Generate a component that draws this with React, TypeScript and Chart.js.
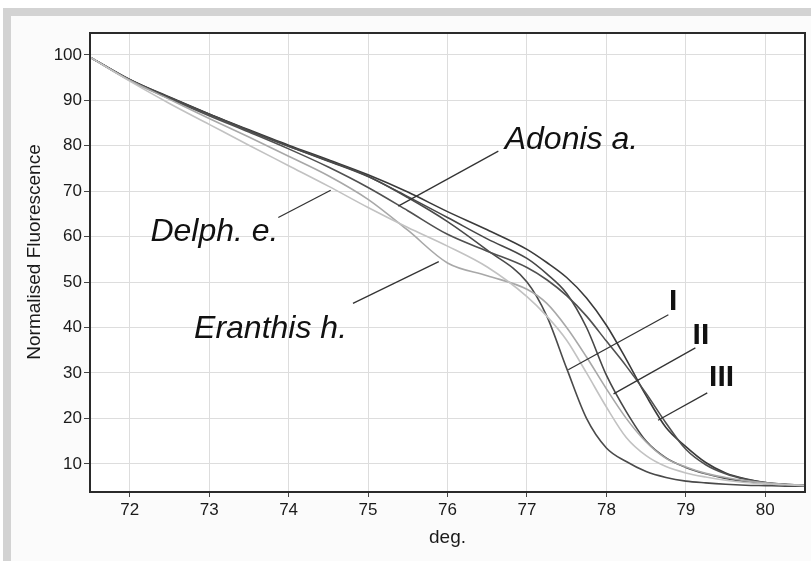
import React, { useEffect, useRef } from "react";
import { Chart, registerables } from "chart.js";
Chart.register(...registerables);

// ---- data ----
const temps = [71.5, 72, 72.5, 73, 73.5, 74, 74.5, 75, 75.5, 76, 76.5, 77, 77.25, 77.5, 77.75, 78, 78.25, 78.5, 78.75, 79, 79.25, 79.5, 79.75, 80, 80.25, 80.5];

const delphE = [99.5, 94.2, 89.3, 84.7, 80.1, 75.6, 71.1, 66.4, 62.0, 57.9, 53.3, 46.8, 42.5, 37.2, 30.0, 22.5, 15.8, 11.8, 9.4, 8.0, 7.1, 6.4, 5.9, 5.6, 5.4, 5.2];
const eranthisH = [99.5, 94.4, 90.2, 86.0, 81.9, 77.7, 73.4, 68.2, 61.4, 54.2, 51.4, 48.4, 45.3, 40.0, 33.5, 26.5, 20.0, 14.8, 11.2, 9.3, 7.9, 7.0, 6.3, 5.8, 5.5, 5.3];
const adonisA = [99.5, 94.4, 90.4, 86.6, 83.0, 79.3, 75.3, 70.8, 65.7, 60.5, 56.8, 53.2, 50.5, 47.0, 42.5, 37.0, 31.5, 25.5, 19.0, 13.2, 9.8, 7.8, 6.6, 5.9, 5.5, 5.3];
const sampleI = [99.5, 94.5, 90.6, 86.9, 83.3, 79.9, 76.7, 73.3, 68.6, 63.3, 57.0, 50.0, 42.5, 31.0, 20.0, 13.5, 10.5, 8.3, 7.0, 6.2, 5.8, 5.5, 5.3, 5.2, 5.1, 5.1];
const sampleII = [99.5, 94.5, 90.6, 86.9, 83.3, 79.9, 76.6, 73.2, 68.8, 64.2, 59.5, 55.2, 51.8, 47.5, 40.0, 29.5, 21.5, 15.0, 11.3, 9.2, 7.8, 6.8, 6.1, 5.7, 5.4, 5.2];
const sampleIII = [99.5, 94.6, 90.7, 87.0, 83.5, 80.1, 76.9, 73.6, 69.8, 65.5, 61.5, 57.2, 54.3, 51.0, 46.5, 40.5, 33.0, 25.0, 18.0, 13.8, 10.3, 8.0, 6.7, 5.9, 5.5, 5.3];

const xTicks = [72, 73, 74, 75, 76, 77, 78, 79, 80];
const yTicks = [10, 20, 30, 40, 50, 60, 70, 80, 90, 100];

const xTitle = "deg.";
const yTitle = "Normalised Fluorescence";

// annotation texts, anchors (data units) and leader lines (data units)
const labelTexts = ["Adonis a.", "Delph. e.", "Eranthis h.", "I", "II", "III"];
const labelX = [76.72, 72.26, 72.81, 78.84, 79.19, 79.45];
const labelY = [81.2, 60.9, 39.7, 45.7, 38.2, 28.9];
const leaderFrom = [[76.64, 78.8], [73.87, 64.2], [74.81, 45.3], [78.78, 42.8], [79.12, 35.5], [79.27, 25.6]];
const leaderTo = [[75.38, 66.7], [74.53, 70.2], [75.89, 54.5], [77.52, 30.7], [78.09, 25.4], [78.65, 19.6]];

const FONT = '"Liberation Sans", Arial, Helvetica, sans-serif';

export default function App() {
  const ref = useRef<HTMLCanvasElement>(null);
  useEffect(() => {
    const canvas = ref.current!;
    const series = [
      { vals: delphE, color: "#c2c2c2" },
      { vals: eranthisH, color: "#a8a8a8" },
      { vals: adonisA, color: "#505050" },
      { vals: sampleI, color: "#4a4a4a" },
      { vals: sampleII, color: "#474747" },
      { vals: sampleIII, color: "#3a3a3a" },
    ];

    const framePlugin = {
      id: "frame",
      beforeDraw(chart: any) {
        const { ctx, chartArea: a } = chart;
        ctx.save();
        ctx.fillStyle = "#ffffff";
        ctx.fillRect(a.left, a.top, a.right - a.left, a.bottom - a.top);
        ctx.restore();
      },
      afterDatasetsDraw(chart: any) {
        const { ctx, chartArea: a } = chart;
        ctx.save();
        ctx.strokeStyle = "#2a2a2a";
        ctx.lineWidth = 2;
        ctx.strokeRect(a.left, a.top, a.right - a.left, a.bottom - a.top);
        ctx.restore();
      },
    };

    const annotPlugin = {
      id: "annot",
      afterDraw(chart: any) {
        const { ctx } = chart;
        const xs = chart.scales.x;
        const ys = chart.scales.y;
        ctx.save();
        // y axis title
        ctx.save();
        ctx.translate(35, 252);
        ctx.rotate(-Math.PI / 2);
        ctx.font = `19px ${FONT}`;
        ctx.fillStyle = "#1a1a1a";
        ctx.textAlign = "center";
        ctx.textBaseline = "middle";
        ctx.fillText(yTitle, 0, 0);
        ctx.restore();

        ctx.strokeStyle = "#333333";
        ctx.lineWidth = 1.3;
        for (let i = 0; i < leaderFrom.length; i++) {
          ctx.beginPath();
          ctx.moveTo(xs.getPixelForValue(leaderFrom[i][0]), ys.getPixelForValue(leaderFrom[i][1]));
          ctx.lineTo(xs.getPixelForValue(leaderTo[i][0]), ys.getPixelForValue(leaderTo[i][1]));
          ctx.stroke();
        }
        ctx.fillStyle = "#111111";
        ctx.textBaseline = "middle";
        for (let i = 0; i < labelTexts.length; i++) {
          const roman = i >= 3;
          ctx.font = roman ? `bold 30px ${FONT}` : `italic 32px ${FONT}`;
          ctx.textAlign = roman ? "center" : "left";
          ctx.fillText(labelTexts[i], xs.getPixelForValue(labelX[i]), ys.getPixelForValue(labelY[i]));
        }
        ctx.restore();
      },
    };

    const tickFont = { family: FONT, size: 17 };
    const chart = new Chart(canvas, {
      type: "line",
      data: {
        datasets: series.map((s) => ({
          data: temps.map((t, i) => ({ x: t, y: s.vals[i] })),
          borderColor: s.color,
          borderWidth: 1.6,
          pointRadius: 0,
          fill: false,
          cubicInterpolationMode: "monotone" as const,
        })),
      },
      options: {
        animation: false,
        responsive: false,
        maintainAspectRatio: false,
        layout: { padding: { top: 33, right: 6, left: 0, bottom: 0 } },
        plugins: { legend: { display: false }, tooltip: { enabled: false } },
        scales: {
          x: {
            type: "linear",
            min: 71.5,
            max: 80.5,
            afterBuildTicks: (s: any) => {
              s.ticks = xTicks.map((v) => ({ value: v }));
            },
            afterFit: (s: any) => {
              s.height = 69;
            },
            ticks: { font: tickFont, color: "#1a1a1a", padding: 3 },
            grid: { color: "#dddddd", tickColor: "#444444", tickLength: 5 },
            border: { display: false },
            title: { display: true, text: xTitle, font: { family: FONT, size: 19 }, color: "#1a1a1a", padding: { top: 0, bottom: 12 } },
          },
          y: {
            type: "linear",
            min: 3.8,
            max: 104.8,
            afterBuildTicks: (s: any) => {
              s.ticks = yTicks.map((v) => ({ value: v }));
            },
            afterFit: (s: any) => {
              s.width = 90;
            },
            ticks: { font: tickFont, color: "#1a1a1a", padding: 2 },
            grid: { color: "#dddddd", tickColor: "#444444", tickLength: 6 },
            border: { display: false },
            title: { display: false },
          },
        },
      },
      plugins: [framePlugin, annotPlugin],
    });
    return () => chart.destroy();
  }, []);

  return (
    <div style={{ position: "fixed", left: 0, top: 0, width: 811, height: 561, background: "#ffffff", overflow: "hidden" }}>
      <div style={{ position: "absolute", left: 3, top: 8, width: 808, height: 553, background: "#fbfbfb" }} />
      <div style={{ position: "absolute", left: 3, top: 8, width: 808, height: 8, background: "#d3d3d3" }} />
      <div style={{ position: "absolute", left: 3, top: 8, width: 8, height: 553, background: "#d3d3d3" }} />
      <canvas ref={ref} width={811} height={561} style={{ position: "absolute", left: 0, top: 0, display: "block" }} />
    </div>
  );
}
